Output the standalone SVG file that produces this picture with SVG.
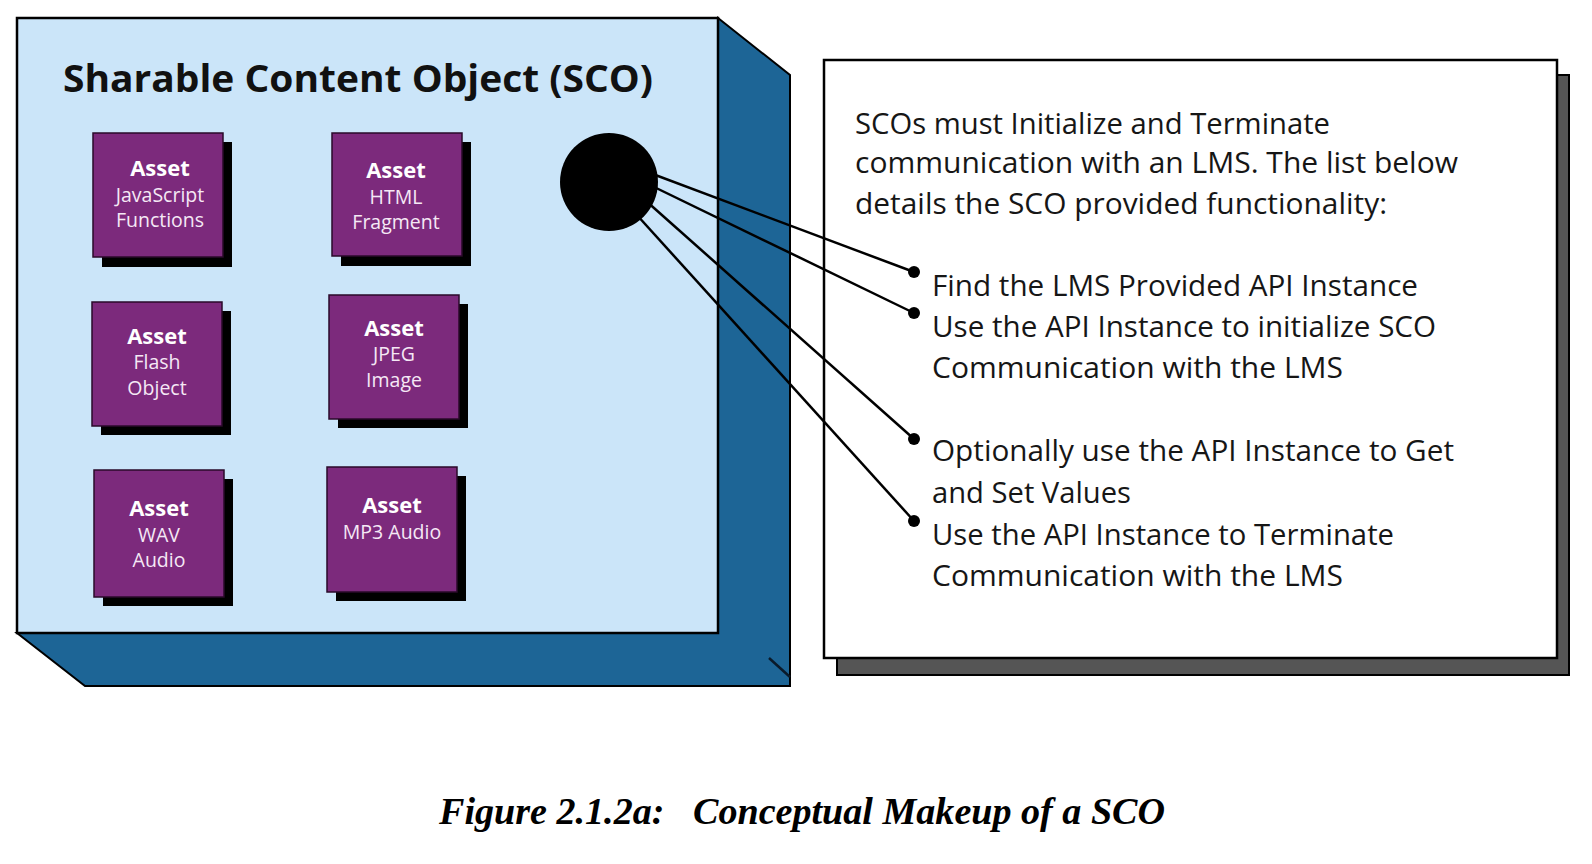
<svg xmlns="http://www.w3.org/2000/svg" width="1592" height="864" viewBox="0 0 1592 864">
<style>
.face{fill:#cbe5f9;stroke:#000;stroke-width:2.5}
.side{fill:#1d6596;stroke:#000;stroke-width:2}
.asset{fill:#7c2a7c;stroke:#2a0a2a;stroke-width:1.5}
.ashadow{fill:#000}
.ah{font-family:"Open Sans","Noto Sans",sans-serif;font-weight:bold;font-size:22px;fill:#fff;text-anchor:middle}
.as{font-family:"Open Sans","Noto Sans",sans-serif;font-size:19.5px;fill:#f5e8f5;text-anchor:middle}
.title{font-family:"Open Sans","Noto Sans",sans-serif;font-weight:bold;font-size:37px;fill:#111}
.body{font-family:"Open Sans","Noto Sans",sans-serif;font-size:29px;fill:#161616}
.conn{stroke:#000;stroke-width:2.5;fill:none}
.cap{font-family:"Liberation Serif","Times New Roman",serif;font-weight:bold;font-style:italic;font-size:38px;fill:#000}
</style>
<defs>
<marker id="dot" viewBox="-7 -7 14 14" markerWidth="14" markerHeight="14" markerUnits="userSpaceOnUse" refX="0" refY="0">
<circle cx="0" cy="0" r="6" fill="#000"/>
</marker>
</defs>
<rect width="1592" height="864" fill="#fff"/>

<g id="sco">
<polygon class="side" points="718,18 790,75 790,686 85,686 17,633 718,633"/>
<line x1="769" y1="658" x2="790" y2="677" stroke="#0a1a2a" stroke-width="2.5"/>
<rect class="face" x="17" y="18" width="701" height="615"/>
<text class="title" x="63" y="92" textLength="590" lengthAdjust="spacingAndGlyphs">Sharable Content Object (SCO)</text>
</g>

<g id="asset-js">
<rect class="ashadow" x="102" y="142" width="130" height="125"/>
<rect class="asset" x="93" y="133" width="130" height="124"/>
<text class="ah" x="160" y="176">Asset</text>
<text class="as" x="160" y="202">JavaScript</text>
<text class="as" x="160" y="227">Functions</text>
</g>
<g id="asset-html">
<rect class="ashadow" x="341" y="142" width="130" height="124"/>
<rect class="asset" x="332" y="133" width="130" height="123"/>
<text class="ah" x="396" y="178">Asset</text>
<text class="as" x="396" y="204">HTML</text>
<text class="as" x="396" y="229">Fragment</text>
</g>
<g id="asset-flash">
<rect class="ashadow" x="101" y="311" width="130" height="124"/>
<rect class="asset" x="92" y="302" width="130" height="124"/>
<text class="ah" x="157" y="344">Asset</text>
<text class="as" x="157" y="369">Flash</text>
<text class="as" x="157" y="395">Object</text>
</g>
<g id="asset-jpeg">
<rect class="ashadow" x="338" y="304" width="130" height="124"/>
<rect class="asset" x="329" y="295" width="130" height="124"/>
<text class="ah" x="394" y="336">Asset</text>
<text class="as" x="394" y="361">JPEG</text>
<text class="as" x="394" y="387">Image</text>
</g>
<g id="asset-wav">
<rect class="ashadow" x="103" y="479" width="130" height="127"/>
<rect class="asset" x="94" y="470" width="130" height="127"/>
<text class="ah" x="159" y="516">Asset</text>
<text class="as" x="159" y="542">WAV</text>
<text class="as" x="159" y="567">Audio</text>
</g>
<g id="asset-mp3">
<rect class="ashadow" x="336" y="476" width="130" height="125"/>
<rect class="asset" x="327" y="467" width="130" height="125"/>
<text class="ah" x="392" y="513">Asset</text>
<text class="as" x="392" y="539">MP3 Audio</text>
</g>

<g id="api-box">
<rect x="837" y="75" width="732" height="600" fill="#555" stroke="#000" stroke-width="2"/>
<rect x="824" y="60" width="733" height="598" fill="#fff" stroke="#000" stroke-width="2.5"/>
<text class="body" x="855" y="134" textLength="475" lengthAdjust="spacingAndGlyphs">SCOs must Initialize and Terminate</text>
<text class="body" x="855" y="173" textLength="603" lengthAdjust="spacingAndGlyphs">communication with an LMS. The list below</text>
<text class="body" x="855" y="214" textLength="532" lengthAdjust="spacingAndGlyphs">details the SCO provided functionality:</text>
<text class="body" x="932" y="296" textLength="486" lengthAdjust="spacingAndGlyphs">Find the LMS Provided API Instance</text>
<text class="body" x="932" y="337" textLength="504" lengthAdjust="spacingAndGlyphs">Use the API Instance to initialize SCO</text>
<text class="body" x="932" y="378" textLength="411" lengthAdjust="spacingAndGlyphs">Communication with the LMS</text>
<text class="body" x="932" y="461" textLength="522" lengthAdjust="spacingAndGlyphs">Optionally use the API Instance to Get</text>
<text class="body" x="932" y="503" textLength="199" lengthAdjust="spacingAndGlyphs">and Set Values</text>
<text class="body" x="932" y="545" textLength="462" lengthAdjust="spacingAndGlyphs">Use the API Instance to Terminate</text>
<text class="body" x="932" y="586" textLength="411" lengthAdjust="spacingAndGlyphs">Communication with the LMS</text>
</g>

<g id="connectors">
<line class="conn" x1="650" y1="173" x2="914" y2="272" marker-end="url(#dot)"/>
<line class="conn" x1="650" y1="185" x2="914" y2="313" marker-end="url(#dot)"/>
<line class="conn" x1="645" y1="200" x2="914" y2="439" marker-end="url(#dot)"/>
<line class="conn" x1="636" y1="214" x2="914" y2="521" marker-end="url(#dot)"/>
</g>

<g id="sco-interface">
<circle cx="609" cy="182" r="49" fill="#000"/>
</g>

<text class="cap" x="439" y="824" textLength="726" lengthAdjust="spacingAndGlyphs" xml:space="preserve">Figure 2.1.2a:   Conceptual Makeup of a SCO</text>
</svg>
